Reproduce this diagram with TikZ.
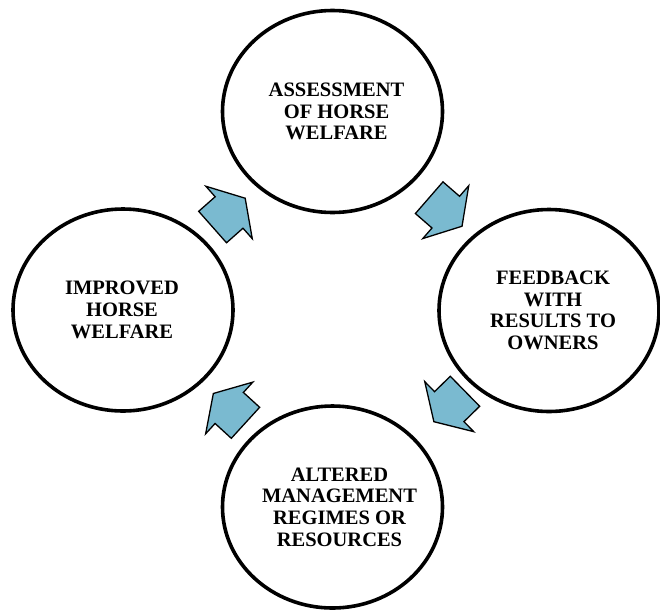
\documentclass[tikz,border=0pt]{standalone}
\usepackage{fontspec}
\setmainfont{Liberation Serif}
\usetikzlibrary{shapes.geometric}
\definecolor{arrowblue}{RGB}{122,186,208}
\tikzset{
  stage/.style={ellipse, draw=black, line width=3.6pt, fill=white,
    minimum width=220pt, minimum height=202pt, inner sep=0pt},
  stagetext/.style={align=center, inner sep=0pt,
    font=\fontsize{20.5}{21.7}\selectfont\bfseries},
  blockarrow/.pic={
    \path[draw=black, line width=1.3pt, line join=miter, fill=arrowblue]
      (-21.5,-21) -- (0.5,-21) -- (0.5,-35) -- (22,0) -- (0.5,35)
      -- (0.5,21) -- (-21.5,21) -- cycle;
  }
}
\begin{document}
\begin{tikzpicture}[x=1pt, y=-1pt]
  \useasboundingbox (0,0) rectangle (660,611);
  % the four stages of the cycle
  \node[stage] (assess)   at (332.5,111.5) {};
  \node[stage] (feedback) at (549,310.5)   {};
  \node[stage] (altered)  at (332.5,507)   {};
  \node[stage] (improved) at (123,310)     {};
  % stage captions, set a little right of centre
  \node[stagetext] (assesstext)   at ([xshift=4pt]assess.center)
    {ASSESSMENT\\OF HORSE\\WELFARE};
  \node[stagetext] (feedbacktext) at ([xshift=4pt]feedback.center)
    {FEEDBACK\\WITH\\RESULTS TO\\OWNERS};
  \node[stagetext] (alteredtext)  at ([xshift=7pt]altered.center)
    {ALTERED\\MANAGEMENT\\REGIMES OR\\RESOURCES};
  \node[stagetext] (improvedtext) at ([xshift=-1pt]improved.center)
    {IMPROVED\\HORSE\\WELFARE};
  % block arrows running clockwise between the stages
  \pic[rotate=41.5]  at (228.7,212.8) {blockarrow};
  \pic[rotate=-41]   at (445.4,211.8) {blockarrow};
  \pic[rotate=224.4] at (449.6,406.3) {blockarrow};
  \pic[rotate=137.6] at (229.6,408.3) {blockarrow};
\end{tikzpicture}
\end{document}
